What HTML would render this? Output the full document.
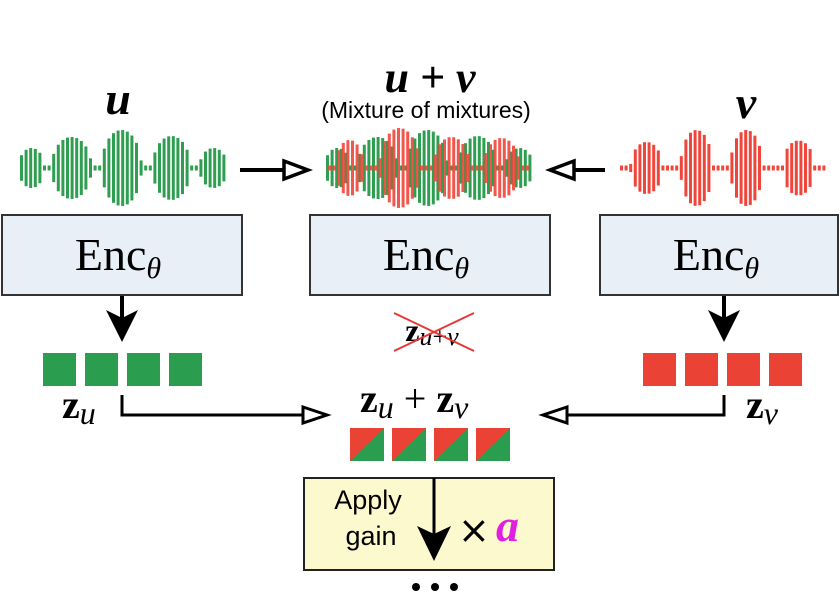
<!DOCTYPE html>
<html><head><meta charset="utf-8"><style>
body{margin:0;background:#fff;width:840px;height:612px;overflow:hidden}
svg{display:block}
.m{font-family:"Liberation Serif",serif;font-style:italic;font-weight:bold}
.s{font-family:"Liberation Sans",sans-serif}
</style></head><body>
<svg id="s" width="840" height="612" viewBox="0 0 840 612" xmlns="http://www.w3.org/2000/svg">
<defs>
<linearGradient id="mx" x1="0" y1="0" x2="1" y2="1"><stop offset="0.5" stop-color="#ea4335"/><stop offset="0.5" stop-color="#2a9d4e"/></linearGradient>
</defs>
<g id="waves"></g>
<text x="118" y="114" class="m" font-size="46" text-anchor="middle">u</text>
<text x="430" y="92" class="m" font-size="44" text-anchor="middle">u + v</text>
<text x="426" y="118" class="s" font-size="23" text-anchor="middle">(Mixture of mixtures)</text>
<text x="746" y="118" class="m" font-size="46" text-anchor="middle">v</text>
<line x1="240" y1="170" x2="285" y2="170" stroke="#000" stroke-width="4"/>
<path d="M284,161 L308,170 L284,179 Z" fill="#fff" stroke="#000" stroke-width="3.5"/>
<line x1="605" y1="170" x2="575" y2="170" stroke="#000" stroke-width="4"/>
<path d="M574,161 L550,170 L574,179 Z" fill="#fff" stroke="#000" stroke-width="3.5"/>
<g font-family="Liberation Serif,serif" font-size="46">
<rect x="2" y="215" width="240" height="80" fill="#e9eff6" stroke="#333" stroke-width="2"/>
<text x="118" y="270" text-anchor="middle">Enc<tspan font-style="italic" font-size="30" dy="8">θ</tspan></text>
<rect x="310" y="215" width="240" height="80" fill="#e9eff6" stroke="#333" stroke-width="2"/>
<text x="426" y="270" text-anchor="middle">Enc<tspan font-style="italic" font-size="30" dy="8">θ</tspan></text>
<rect x="600" y="215" width="238" height="80" fill="#e9eff6" stroke="#333" stroke-width="2"/>
<text x="716" y="270" text-anchor="middle">Enc<tspan font-style="italic" font-size="30" dy="8">θ</tspan></text>
</g>
<line x1="122" y1="296" x2="122" y2="320" stroke="#000" stroke-width="4"/>
<path d="M106,310 L122,342 L138,310 L122,318 Z" fill="#000"/>
<line x1="724" y1="296" x2="724" y2="320" stroke="#000" stroke-width="4"/>
<path d="M708,310 L724,342 L740,310 L724,318 Z" fill="#000"/>
<text x="432" y="341" font-family="Liberation Serif,serif" font-size="32" text-anchor="middle"><tspan font-weight="bold">z</tspan><tspan font-style="italic" font-size="26" dy="4">u</tspan><tspan font-size="26">+</tspan><tspan font-style="italic" font-size="26">v</tspan></text>
<line x1="394" y1="313" x2="474" y2="351" stroke="#e53935" stroke-width="2"/>
<line x1="394" y1="351" x2="474" y2="313" stroke="#e53935" stroke-width="2"/>
<g fill="#2a9d4e"><rect x="43" y="353" width="33" height="33"/><rect x="85" y="353" width="33" height="33"/><rect x="127" y="353" width="33" height="33"/><rect x="169" y="353" width="33" height="33"/></g>
<g fill="#ea4335"><rect x="643" y="353" width="33" height="33"/><rect x="685" y="353" width="33" height="33"/><rect x="727" y="353" width="33" height="33"/><rect x="769" y="353" width="33" height="33"/></g>
<g fill="url(#mx)"><rect x="350" y="428" width="34" height="33"/><rect x="392" y="428" width="34" height="33"/><rect x="434" y="428" width="34" height="33"/><rect x="476" y="428" width="34" height="33"/></g>
<g font-family="Liberation Serif,serif" font-size="40">
<text x="62" y="418"><tspan font-weight="bold">z</tspan><tspan font-style="italic" font-size="32" dy="6">u</tspan></text>
<text x="746" y="418"><tspan font-weight="bold">z</tspan><tspan font-style="italic" font-size="32" dy="6">v</tspan></text>
<text x="360" y="412"><tspan font-weight="bold">z</tspan><tspan font-style="italic" font-size="32" dy="6">u</tspan><tspan dy="-6"> + </tspan><tspan font-weight="bold">z</tspan><tspan font-style="italic" font-size="32" dy="6">v</tspan></text>
</g>
<polyline points="122,395 122,415 305,415" fill="none" stroke="#000" stroke-width="3"/>
<path d="M303,407 L327,415 L303,423 Z" fill="#fff" stroke="#000" stroke-width="3"/>
<polyline points="724,395 724,415 565,415" fill="none" stroke="#000" stroke-width="3"/>
<path d="M567,407 L543,415 L567,423 Z" fill="#fff" stroke="#000" stroke-width="3"/>
<rect x="304" y="478" width="250" height="92" fill="#fdf9cf" stroke="#222" stroke-width="2"/>
<text x="368" y="509" class="s" font-size="27" text-anchor="middle">Apply</text>
<text x="371" y="545" class="s" font-size="27" text-anchor="middle">gain</text>
<line x1="434" y1="478" x2="434" y2="535" stroke="#000" stroke-width="3"/>
<path d="M417,526 L434,561 L451,526 L434,534 Z" fill="#000"/>
<text x="458" y="543" font-family="DejaVu Sans,sans-serif" font-size="38">×</text>
<text x="496" y="541" class="m" font-size="46" fill="#e020e0" font-weight="normal">a</text>
<circle cx="416" cy="587" r="4"/><circle cx="435" cy="587" r="4"/><circle cx="454" cy="587" r="4"/>
</svg>
<script>
(function(){
var g=document.getElementById('waves'),ns='http://www.w3.org/2000/svg';
function wave(x0,x1,cy,lobes,col,op){
  for(var x=x0;x<=x1;x+=4.6){
    var h=5;
    lobes.forEach(function(l){var d=Math.abs(x-l[0])/l[2];if(d<1){var v=l[1]*Math.sqrt(1-d*d);if(v>h)h=v;}});
    var r=document.createElementNS(ns,'rect');
    r.setAttribute('x',x);r.setAttribute('y',cy-h/2);r.setAttribute('width',3);r.setAttribute('height',h);
    r.setAttribute('fill',col);if(op)r.setAttribute('opacity',op);g.appendChild(r);
  }
}
var G=[[30,40,13],[70,62,20],[120,76,20],[170,64,19],[212,40,14]];
var R=[[645,52,16],[695,76,16],[745,76,16],[797,55,16]];
wave(20,224,168,G,'#2f9e50');
wave(620,825,168,R,'#f0453a');
var Gm=G.map(function(l){return [l[0]+306,l[1],l[2]]});
var Rm=[[348,56,14],[398,80,20],[450,62,18],[500,60,18]];
wave(326,530,168,Gm,'#2f9e50');
wave(328,530,168,Rm,'#f0453a',0.9);
})();
</script>
</body></html>
